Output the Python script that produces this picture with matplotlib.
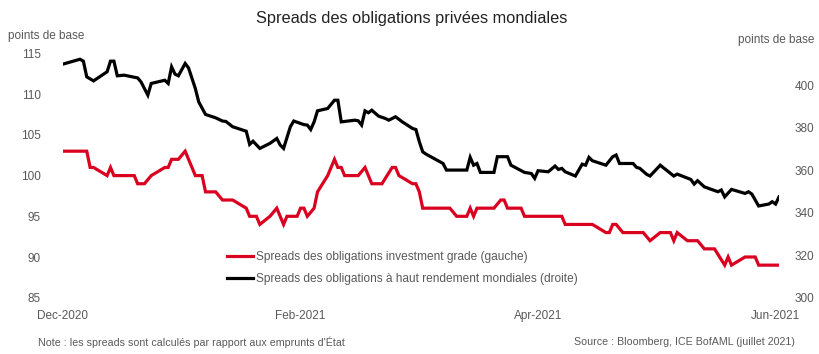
import datetime as dt
import matplotlib
matplotlib.use("Agg")
import matplotlib.pyplot as plt

plt.rcParams['font.family'] = ['Liberation Sans', 'DejaVu Sans']

start = dt.date(2020, 12, 1)

# spreads investment grade (gauche), day offset from start / points de base
ig_day = [0, 7, 8, 9, 13, 14, 15, 21, 22, 24, 26, 30, 31, 32, 34, 36, 39, 41, 42, 45,
          47, 50, 54, 55, 57, 58, 61, 63, 65, 66, 69, 70, 71, 72, 74, 75, 78, 80, 81, 82,
          83, 87, 89, 91, 94, 97, 98, 99, 103, 104, 105, 106, 114, 116, 119, 120, 121, 122, 127, 129,
          130, 131, 135, 136, 147, 148, 156, 160, 161, 162, 163, 165, 171, 173, 176, 179, 180, 181, 184, 187,
          189, 192, 195, 196, 197, 201, 204, 205, 211]
ig_bp = [103, 103, 101, 101, 100, 101, 100, 100, 99, 99, 100, 101, 101, 102, 102, 103, 100, 100, 98, 98,
         97, 97, 96, 95, 95, 94, 95, 96, 94, 95, 95, 96, 96, 95, 96, 98, 100, 102, 101, 101,
         100, 100, 101, 99, 99, 101, 101, 100, 99, 99, 98, 96, 96, 95, 95, 96, 95, 96, 96, 97,
         97, 96, 96, 95, 95, 94, 94, 93, 93, 94, 94, 93, 93, 92, 93, 93, 92, 93, 92, 92,
         91, 91, 89, 90, 89, 90, 90, 89, 89]

# spreads haut rendement (droite)
hy_day = [0, 5, 6, 7, 9, 13, 14, 15, 16, 18, 22, 23, 25, 26, 30, 31, 32, 33, 34, 36,
          37, 39, 40, 42, 45, 47, 48, 50, 54, 55, 56, 58, 61, 63, 64, 65, 67, 68, 71, 72,
          73, 74, 75, 78, 80, 81, 82, 86, 87, 88, 89, 90, 91, 93, 95, 96, 98, 100, 103, 104,
          105, 106, 107, 112, 113, 119, 120, 121, 122, 123, 127, 128, 131, 132, 136, 138, 139, 140, 143, 145,
          146, 147, 148, 151, 153, 154, 155, 156, 160, 162, 163, 164, 168, 169, 170, 172, 173, 176, 180, 181,
          185, 186, 187, 189, 193, 194, 195, 197, 201, 202, 203, 205, 208, 209, 210, 211]
hy_bp = [410.0, 412.3, 411.4, 404.0, 402.1, 406.4, 411.4, 411.4, 404.5, 404.8, 403.5, 401.6, 395.4, 400.9, 402.4, 400.9, 408.7, 405.3, 404.5, 410.3,
         408.2, 398.5, 392.2, 386.3, 384.7, 383.2, 383.0, 380.5, 378.4, 372.2, 373.7, 370.3, 372.7, 375.0, 371.9, 370.3, 380.5, 383.2, 381.5, 381.3,
         379.2, 382.8, 388.0, 389.1, 393.0, 393.0, 382.8, 383.6, 383.3, 381.3, 388.0, 387.1, 388.3, 385.5, 384.4, 383.6, 385.2, 382.8, 379.7, 379.2,
         373.5, 368.7, 367.6, 363.2, 360.1, 360.1, 366.1, 362.4, 363.2, 359.0, 359.0, 366.4, 366.4, 362.4, 359.0, 358.5, 356.2, 359.8, 359.3, 362.0,
         360.4, 360.9, 359.3, 357.3, 362.9, 362.4, 366.1, 364.5, 362.4, 366.4, 367.2, 363.2, 363.2, 361.4, 360.9, 358.1, 357.3, 362.4, 357.3, 358.2,
         355.7, 353.5, 355.1, 352.2, 349.9, 350.7, 347.5, 351.0, 349.1, 349.9, 348.8, 343.2, 344.1, 345.2, 344.1, 347.5]

tick_day = [0, 70, 140, 210]
tick_lab = ['Dec-2020', 'Feb-2021', 'Apr-2021', 'Jun-2021']

red = '#DA0020'
grey = '#595959'

ig_x = [start + dt.timedelta(days=d) for d in ig_day]
hy_x = [start + dt.timedelta(days=d) for d in hy_day]
tick_x = [start + dt.timedelta(days=d) for d in tick_day]

fig = plt.figure(figsize=(8.2, 3.54), dpi=100)
ax = fig.add_axes([63 / 820, 1 - 297.7 / 354, (779 - 63) / 820, (297.7 - 53.5) / 354])
ax2 = ax.twinx()

l1, = ax.plot(ig_x, ig_bp, color=red, lw=2.3, solid_joinstyle='miter',
              label='Spreads des obligations investment grade (gauche)')
l2, = ax2.plot(hy_x, hy_bp, color='black', lw=2.3, solid_joinstyle='miter',
               label='Spreads des obligations à haut rendement mondiales (droite)')

ax.set_xlim(start, start + dt.timedelta(days=211))
ax.set_ylim(85, 115)
ax2.set_ylim(300, 415)
ax.set_yticks(range(85, 116, 5))
ax2.set_yticks(range(300, 401, 20))
ax.set_xticks(tick_x)
ax.set_xticklabels(tick_lab)

for a in (ax, ax2):
    for s in a.spines.values():
        s.set_visible(False)
    a.tick_params(length=0, labelsize=8.5, labelcolor=grey)
ax.tick_params(axis='y', pad=16)
ax2.tick_params(axis='y', pad=11)
ax.tick_params(axis='x', pad=9)

fig.text(0.502, 1 - 18 / 354, 'Spreads des obligations privées mondiales',
         ha='center', va='center', fontsize=11.8, color='#222222')
fig.text(8 / 820, 1 - 36 / 354, 'points de base', ha='left', va='center',
         fontsize=8.5, color=grey)
fig.text(814 / 820, 1 - 40 / 354, 'points de base', ha='right', va='center',
         fontsize=8.5, color=grey)
fig.text(38 / 820, 1 - 342 / 354, "Note : les spreads sont calculés par rapport aux emprunts d'État",
         ha='left', va='center', fontsize=7.7, color=grey)
fig.text(795 / 820, 1 - 342 / 354, 'Source : Bloomberg, ICE BofAML (juillet 2021)',
         ha='right', va='center', fontsize=7.7, color=grey)

leg = ax2.legend(handles=[l1, l2], loc='upper left', bbox_to_anchor=(227 / 820, 1 - 251 / 354),
                 bbox_transform=fig.transFigure, frameon=False, fontsize=8.6,
                 handlelength=2.2, handletextpad=0.25, borderpad=0, borderaxespad=0,
                 labelspacing=0.85)
for t in leg.get_texts():
    t.set_color(grey)

fig.savefig('out.png', dpi=100)
